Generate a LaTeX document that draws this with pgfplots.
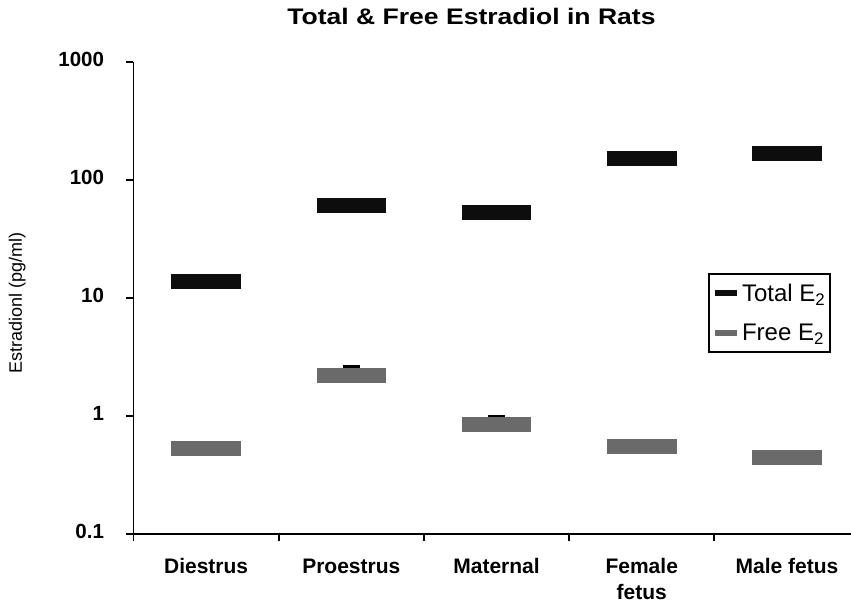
\documentclass[border=0pt]{standalone}
\usepackage{fontspec}
\setmainfont{Liberation Sans}
\usepackage{graphicx}
\usepackage{pgfplots}
\pgfplotsset{compat=1.18}
\definecolor{totc}{RGB}{13,13,13}
\definecolor{frec}{RGB}{106,106,106}
\begin{document}
\begin{tikzpicture}
\begin{axis}[
  at={(0pt,0pt)}, anchor=south west,
  scale only axis, width=717.5pt, height=472pt,
  ymode=log, ymin=0.1, ymax=1000,
  xmin=-0.5, xmax=4.441,
  clip=false,
  axis lines=left,
  axis line style={-, line width=1.8pt, black},
  tick style={line width=1.8pt, black},
  tick align=outside,
  major tick length=7pt, minor tick length=7pt,
  xtick={0,1,2,3,4},
  xticklabels={Diestrus,Proestrus,Maternal,{Female\\fetus},Male fetus},
  typeset ticklabels with strut,
  major x tick style={draw=none},
  minor xtick={-0.5,0.5,1.5,2.5,3.5},
  xticklabel style={align=center, font=\bfseries\fontsize{21}{26.5}\selectfont, yshift=-10pt},
  ytick={0.1,1,10,100,1000},
  yticklabels={0.1,1,10,100,1000},
  minor y tick num=0,
  minor y tick style={draw=none},
  yticklabel style={font=\bfseries\fontsize{20.5}{24}\selectfont, xshift=-19pt},
  ylabel={Estradionl (pg/ml)},
  ylabel style={at={(axis description cs:-0.162,0.49)}, anchor=center, font=\fontsize{18}{22}\selectfont},
  title={\scalebox{1.18}[1]{\bfseries\fontsize{22.5}{27}\selectfont Total \& Free Estradiol in Rats}},
  title style={at={(axis description cs:0.471,1.083)}, anchor=center},
  legend image code/.code={\draw[#1, line width=6pt] (0pt,0pt) -- (22pt,0pt);},
  legend style={at={(axis description cs:0.8007,0.553)}, anchor=north west,
    draw=black, line width=2pt, font=\fontsize{24}{28}\selectfont,
    inner xsep=3pt, inner ysep=8pt, row sep=17pt, nodes={inner sep=2pt}},
  legend cell align=left,
]
\addplot[forget plot, draw=none, mark=none,
  error bars/.cd, y dir=plus, y explicit, error mark=|,
  error bar style={draw=black, line width=2pt},
  error mark options={draw=black, line width=2.5pt, mark size=8.5pt}]
  coordinates {(1,2.22) +- (0,0.42) (2,0.842) +- (0,0.16)};
\addplot[forget plot, only marks, mark=-, mark size=34.75pt, mark options={line width=15pt, draw=totc}]
  coordinates {(0,13.7) (1,60.8) (2,53.3) (3,153.6) (4,167.8)};
\addplot[forget plot, only marks, mark=-, mark size=34.75pt, mark options={line width=15pt, draw=frec}]
  coordinates {(0,0.527) (1,2.22) (2,0.842) (3,0.55) (4,0.445)};
\addlegendimage{totc}
\addlegendentry{Total E\textsubscript{2}\hspace{32pt}}
\addlegendimage{frec}
\addlegendentry{Free E\textsubscript{2}}
\end{axis}
\pgfresetboundingbox
\path[use as bounding box] (-133.5pt,-69pt) rectangle (717.5pt,534pt);
\end{tikzpicture}
\end{document}
